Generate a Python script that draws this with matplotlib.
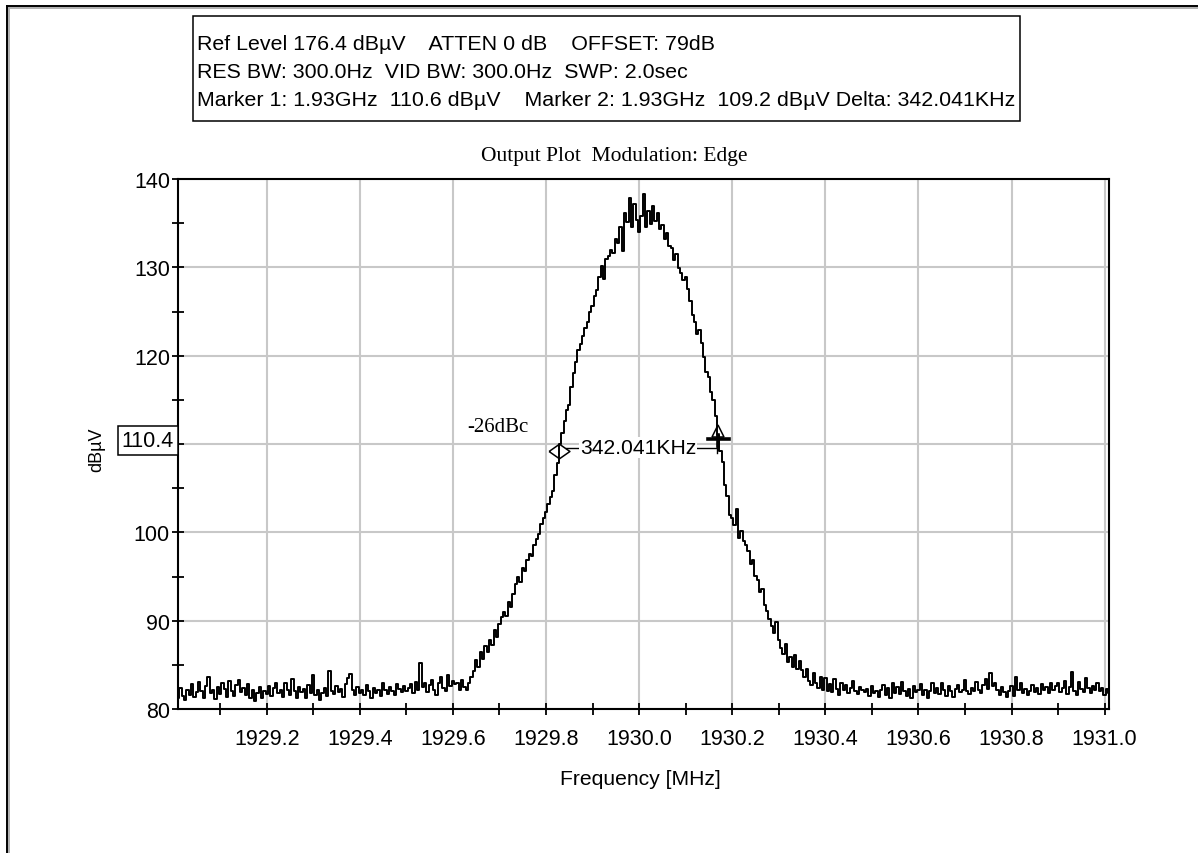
import numpy as np
import matplotlib
matplotlib.use("Agg")
import matplotlib.pyplot as plt
from matplotlib.lines import Line2D
from matplotlib.patches import Rectangle
from matplotlib.path import Path
import matplotlib.transforms as mtransforms

# sweep span (MHz) and measured level (dBuV), one point every 5 kHz
F_START, F_STOP = 1929.01, 1931.01
level = [
    81.2, 82.4, 81.5, 81.0, 82.1, 81.6, 82.8, 81.4, 81.9, 83.1, 82.0, 81.3, 82.6, 83.6, 81.8, 82.2, 81.1, 82.5, 81.7, 82.9,
    82.3, 81.4, 83.2, 82.0, 81.5, 82.7, 83.3, 81.9, 82.4, 81.6, 82.8, 81.2, 82.1, 80.9, 81.8, 82.5, 81.3, 82.0, 81.7, 82.6,
    81.5, 82.4, 83.0, 81.8, 82.2, 81.4, 82.9, 82.1, 81.6, 83.4, 82.0, 81.3, 82.5, 81.9, 82.3, 81.2, 82.7, 81.8, 83.9, 81.6,
    82.1, 81.0, 81.8, 82.4, 81.5, 84.3, 82.0, 81.7, 82.6, 81.9, 82.3, 81.4, 82.8, 83.5, 84.0, 82.2, 81.6, 82.5, 81.8, 82.1,
    81.6, 82.7, 82.0, 81.3, 82.4, 81.8, 82.2, 81.5, 82.9, 82.1, 81.7, 82.5, 82.0, 81.6, 82.8, 82.3, 81.9, 82.6, 82.0, 82.4,
    82.8, 81.8, 83.1, 82.2, 85.2, 82.5, 83.0, 81.9, 82.7, 83.3, 82.1, 81.6, 82.9, 83.6, 82.4, 82.0, 83.8, 82.6, 83.2, 82.8,
    82.9, 82.2, 83.3, 82.5, 82.1, 83.0, 83.6, 84.3, 85.5, 84.8, 86.4, 85.7, 87.1, 86.5, 87.8, 87.2, 88.9, 88.2, 89.6, 90.4,
    91.0, 90.5, 92.1, 91.6, 93.0, 94.2, 94.9, 94.4, 96.0, 95.6, 96.9, 97.5, 97.3, 98.6, 99.2, 99.8, 101.0, 101.6, 102.3, 103.2,
    104.0, 104.7, 106.5, 107.9, 110.0, 111.2, 112.6, 113.8, 114.4, 116.5, 118.0, 119.3, 120.6, 121.3, 122.2, 123.1, 123.8, 124.9, 125.6, 126.8,
    127.4, 128.9, 130.2, 128.7, 131.0, 131.3, 132.0, 131.6, 133.2, 132.8, 134.6, 131.9, 136.2, 135.1, 137.9, 134.6, 137.2, 135.4, 134.0, 135.8,
    138.3, 134.6, 136.4, 134.9, 137.0, 135.2, 136.1, 134.3, 134.8, 133.2, 133.9, 132.4, 132.2, 130.8, 131.5, 129.9, 129.4, 128.6, 128.9, 127.5,
    126.2, 124.6, 123.8, 122.5, 122.9, 121.4, 119.8, 118.2, 117.6, 115.9, 115.0, 113.2, 111.0, 109.2, 108.0, 105.4, 104.1, 102.0, 101.6, 100.8,
    102.6, 99.4, 100.2, 99.0, 98.6, 97.9, 96.4, 96.9, 95.1, 94.6, 93.2, 93.6, 91.8, 91.1, 90.2, 89.4, 88.6, 89.9, 87.8, 86.9,
    86.2, 87.4, 85.3, 85.9, 84.7, 86.1, 84.5, 85.4, 84.4, 83.6, 84.5, 83.2, 82.7, 84.1, 83.0, 82.4, 83.6, 82.2, 83.5, 82.0,
    82.8, 81.9, 83.4, 82.3, 81.6, 83.0, 82.1, 82.7, 81.8, 82.4, 83.2, 82.0, 81.7, 82.5, 82.1, 81.9, 82.3, 81.5, 82.6, 81.8,
    82.0, 81.4, 82.2, 82.7, 81.6, 82.4, 81.3, 82.9, 81.8, 82.5, 81.7, 83.1, 82.0, 81.5, 82.3, 81.2, 82.6, 81.9, 82.1, 82.8,
    81.6, 82.2, 81.3, 82.0, 83.0, 81.8, 82.4, 81.7, 82.9, 82.1, 81.5, 82.6, 82.0, 81.4, 82.3, 82.7, 81.9, 82.2, 83.3, 82.0,
    81.7, 82.4, 82.0, 83.1, 82.2, 81.8, 82.7, 83.4, 82.3, 84.1, 82.6, 83.0, 82.1, 81.6, 82.5, 81.9, 81.4, 82.0, 82.6, 81.5,
    83.6, 82.2, 82.9, 81.8, 82.3, 81.6, 82.0, 82.7, 81.9, 82.4, 81.7, 82.8, 82.1, 82.5, 81.8, 83.0, 82.2, 82.6, 82.9, 81.9,
    82.4, 83.2, 81.7, 82.5, 84.2, 82.0, 81.6, 83.1, 82.3, 81.9, 83.5, 82.4, 81.8, 82.6, 82.2, 82.9, 82.0, 82.4, 81.6, 82.3,
    81.8,
]
freq = np.linspace(F_START, F_STOP, len(level))

# marker 1 / marker 2 readouts
marker_freq = [1930.1695, 1929.8275]
marker_level = [110.6, 109.2]
delta_khz = 342.041
ref_level_mark = 110.4
dbc_text = "-26dBc"

header = [
    "Ref Level 176.4 dB\u00b5V    ATTEN 0 dB    OFFSET: 79dB",
    "RES BW: 300.0Hz  VID BW: 300.0Hz  SWP: 2.0sec",
    "Marker 1: 1.93GHz  110.6 dB\u00b5V    Marker 2: 1.93GHz  109.2 dB\u00b5V Delta: 342.041KHz",
]
xticks = [1929.2, 1929.4, 1929.6, 1929.8, 1930.0, 1930.2, 1930.4, 1930.6, 1930.8, 1931.0]
xminor = [1929.1, 1929.3, 1929.5, 1929.7, 1929.9, 1930.1, 1930.3, 1930.5, 1930.7, 1930.9]
yticks = [80, 90, 100, 110, 120, 130, 140]
yminor = [85, 95, 105, 115, 125, 135]

SANS = ["Liberation Sans", "DejaVu Sans"]
SERIF = ["Liberation Serif", "DejaVu Serif"]
W, H = 1198, 854
fig = plt.figure(figsize=(W / 100, H / 100), dpi=100)
fig.patch.set_facecolor("white")


def rect(x0, y0, x1, y1):
    return [x0 / W, 1 - y1 / H, (x1 - x0) / W, (y1 - y0) / H]


# window frame along top and left edge
pix = mtransforms.Affine2D().scale(1 / W, -1 / H).translate(0, 1) + fig.transFigure
for off, col in [(6.7, "black"), (8.6, "#b0b0b0")]:
    fig.add_artist(Line2D([off, off], [off, H + 5], color=col, lw=1.4, transform=pix))
    fig.add_artist(Line2D([off, W + 5], [off, off], color=col, lw=1.4, transform=pix))

# settings box
fig.add_artist(Rectangle((193, 17), 827, 105, fill=False, ec="black", lw=1.1, transform=pix))
for i, line in enumerate(header):
    fig.text(197 / W, 1 - (45 + 27.5 * i) / H, line, fontsize=15.4, family=SANS, va="center", ha="left")

fig.text(614 / W, 1 - 157 / H, "Output Plot  Modulation: Edge", fontsize=15.5, family=SERIF,
         ha="center", va="center")

ax = fig.add_axes(rect(178.3, 180, 1109.3, 710))
ax.plot(freq, level, color="black", lw=1.4, drawstyle="steps-mid", zorder=3)
ax.set_xlim(F_START, F_STOP)
ax.set_ylim(80, 140)

ax.set_xticks(xticks)
ax.set_xticklabels([f"{v:.1f}" for v in xticks])
ax.set_xticks(xminor, minor=True)
ax.set_yticks(yticks)
ax.set_yticklabels(["" if v == 110 else str(v) for v in yticks])
ax.set_yticks(yminor, minor=True)
ax.tick_params(which="both", direction="inout", length=8, width=1.3, color="black")
ax.tick_params(axis="x", which="major", labelsize=15.5, pad=10)
ax.tick_params(axis="y", which="major", labelsize=15.5, pad=2)
for lab in ax.get_xticklabels() + ax.get_yticklabels():
    lab.set_family(SANS)
ax.grid(True, which="major", color="#c8c8c8", lw=1.5, zorder=0)
ax.set_axisbelow(True)
for sp in ax.spines.values():
    sp.set_linewidth(1.5)

fig.text(640 / W, 1 - 780 / H, "Frequency [MHz]", fontsize=15.2, family=SANS, ha="center", va="center")
fig.text(97 / W, 1 - 450 / H, "dB\u00b5V", fontsize=13, family=SANS, rotation=90, ha="center", va="center")

# reference level readout on the y axis
yblend = mtransforms.blended_transform_factory(ax.transAxes, ax.transData)
ax.text(-0.0045, ref_level_mark, f"{ref_level_mark:.1f}", transform=yblend, ha="right", va="center",
        fontsize=15.5, family=SANS, clip_on=False, zorder=5,
        bbox=dict(boxstyle="square,pad=0.2", fc="white", ec="black", lw=1.1))

# markers
diamond = Path([(-1, 0), (0, 0.7), (1, 0), (0, -0.7), (-1, 0)])
ax.plot(marker_freq[1], marker_level[1], marker=diamond, ms=15, mfc="none", mec="black", mew=1.1, zorder=4)
ax.plot(marker_freq[0], marker_level[0] + 0.9, marker="^", ms=9, mfc="none", mec="black", mew=1.1, zorder=4)
ax.plot([marker_freq[0] - 0.022, marker_freq[0] + 0.024], [marker_level[0]] * 2, color="black", lw=2.6, zorder=4)
ax.plot([marker_freq[0]] * 2, [marker_level[0] - 0.8, marker_level[0] + 0.4], color="black", lw=2.6, zorder=4)

delta_y = np.mean(marker_level) - 0.3
ax.plot([marker_freq[1] + 0.015, marker_freq[0] - 0.003], [delta_y, delta_y], color="black", lw=1.0, zorder=4)
ax.plot([marker_freq[0] - 0.003] * 2, [delta_y - 0.6, delta_y + 0.6], color="black", lw=1.0, zorder=4)
ax.text(np.mean(marker_freq) - 0.001, delta_y, f"{delta_khz:.3f}KHz", ha="center", va="center",
        fontsize=15.2, family=SANS, zorder=5,
        bbox=dict(boxstyle="square,pad=0.05", fc="white", ec="none"))
ax.text(1929.697, 112.0, dbc_text, ha="center", va="center", fontsize=15, family=SERIF, zorder=5)

fig.savefig("out.png", dpi=100, facecolor="white")
